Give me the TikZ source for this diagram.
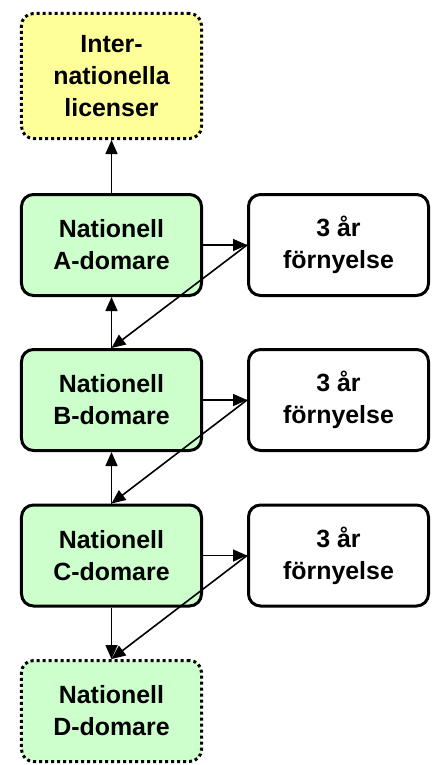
\documentclass[tikz,border=0pt]{standalone}
\usepackage{fontspec}
\setmainfont{Liberation Sans}
\usetikzlibrary{arrows.meta}
\definecolor{lgreen}{HTML}{CCFFCC}
\definecolor{lyellow}{HTML}{FFFF99}
\tikzset{
	box/.style={draw, line width=3bp, rounded corners=12bp, align=center,
		minimum width=180bp, minimum height=101bp, inner sep=0pt,
		font=\fontsize{25}{32}\selectfont\bfseries},
	dotbox/.style={box, dash pattern=on 3bp off 3bp},
	conn/.style={line width=1.6bp, -{Triangle[length=14bp, width=12bp]}}
}
\begin{document}
\begin{tikzpicture}[x=1bp, y=-1bp]
	\def \lx{111.5}
	\def \rx{338.5}
	\useasboundingbox (0, 0) rectangle (435, 765);
	\node[dotbox, fill=lyellow, minimum height=125bp] (intl) at (\lx, 76) {Inter-\\nationella\\licenser};
	\node[box, fill=lgreen] (A) at (\lx, 245) {Nationell\\A-domare};
	\node[box, fill=lgreen] (B) at (\lx, 400) {Nationell\\B-domare};
	\node[box, fill=lgreen] (C) at (\lx, 555.5) {Nationell\\C-domare};
	\node[dotbox, fill=lgreen] (D) at (\lx, 711) {Nationell\\D-domare};
	\foreach \n/\y in {A/245, B/400, C/555.5}
	{ \node[box, fill=white] (r\n) at (\rx, \y) {3 år\\förnyelse};
	  \draw[conn] (\n) -- (r\n);
	}
	\draw[conn] (A) -- (intl);
	\draw[conn] (B) -- (A);
	\draw[conn] (C) -- (B);
	\draw[conn] (C) -- (D);
	\foreach \n/\m in {A/B, B/C, C/D}
	{ \draw[conn] (r\n.west) -- (\m.north);
	}
\end{tikzpicture}
\end{document}
